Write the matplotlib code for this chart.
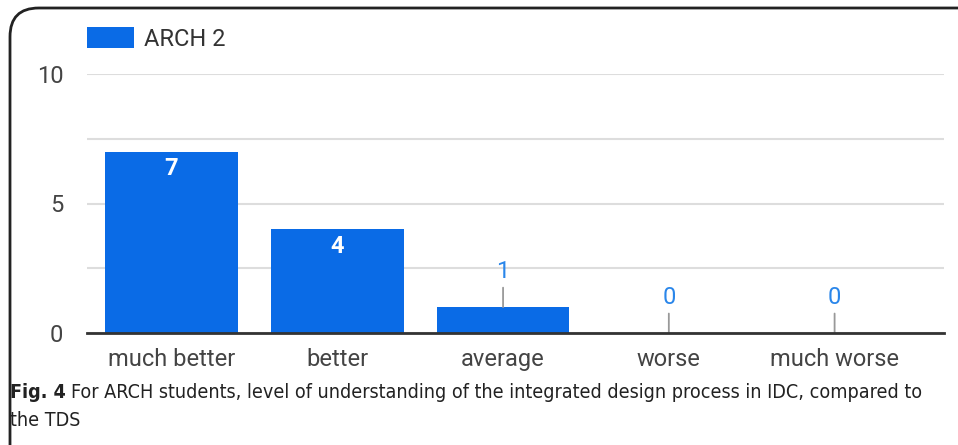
import matplotlib.pyplot as plt
from matplotlib.patches import FancyBboxPatch

# data
categorias = ["much better", "better", "average", "worse", "much worse"]
valores = [7, 4, 1, 0, 0]
serie = "ARCH 2"
legenda_fig = "Fig. 4"
legenda_texto = ("For ARCH students, level of understanding of the integrated design "
                 "process in IDC, compared to")
legenda_texto2 = "the TDS"

azul = '#0a6be6'
azul_rotulo = '#2a86ea'
cinza_txt = '#444444'

plt.rcParams['font.family'] = ['Roboto', 'DejaVu Sans']

fig = plt.figure(figsize=(9.58, 4.45), dpi=100)
ax = fig.add_axes([87 / 958, 1 - 333 / 445, (944 - 87) / 958, (333 - 74) / 445])

x = list(range(len(categorias)))
barras = ax.bar(x, valores, width=0.8, color=azul, label=serie, zorder=2)

ax.set_xlim(-0.51, 4.66)
ax.set_ylim(0, 10)
ax.set_yticks([0, 5, 10])
ax.set_yticks([2.5, 7.5], minor=True)
ax.set_xticks(x)
ax.set_xticklabels(categorias)
ax.tick_params(axis='both', length=0, labelsize=17, labelcolor=cinza_txt)
ax.tick_params(axis='x', pad=11)
ax.tick_params(axis='y', pad=17)
ax.tick_params(which='minor', length=0)
ax.grid(axis='y', which='both', color='#dddddd', linewidth=1.5, zorder=0)
for lado in ['top', 'right', 'left']:
    ax.spines[lado].set_visible(False)
ax.spines['bottom'].set_color('#333333')
ax.spines['bottom'].set_linewidth(2)
ax.spines['bottom'].set_zorder(3)

# value labels
for xi, v in zip(x, valores):
    if v >= 2:
        ax.annotate(str(v), xy=(xi, v), xytext=(0, -4), textcoords='offset points',
                    ha='center', va='top', color='white', fontsize=17, fontweight='bold')
    else:
        ax.annotate(str(v), xy=(xi, v), xytext=(0, 17), textcoords='offset points',
                    ha='center', va='bottom', color=azul_rotulo, fontsize=17,
                    arrowprops=dict(arrowstyle='-', color='#999999', lw=1.3,
                                    shrinkA=1, shrinkB=0))

fig.legend(handles=[barras], labels=[serie], loc='center left',
           bbox_to_anchor=(87 / 958, 1 - 39 / 445), frameon=False, fontsize=17,
           borderpad=0, borderaxespad=0, handlelength=2.0, handleheight=1.0,
           handletextpad=0.42, labelcolor='#333333')

# caption
fonte_leg = ['DejaVu Sans']
t1 = fig.text(10 / 958, 1 - 392 / 445, legenda_fig, fontsize=14.1, fontweight='bold',
              family=fonte_leg, fontstretch='condensed', va='center', ha='left',
              color='#222222')
fig.canvas.draw()
bb = t1.get_window_extent(fig.canvas.get_renderer())
x2 = bb.x1 / fig.bbox.width + 5 / 958
fig.text(x2, 1 - 392 / 445, legenda_texto, fontsize=14.1, family=fonte_leg,
         fontstretch='condensed', va='center', ha='left', color='#222222')
fig.text(10 / 958, 1 - 421 / 445, legenda_texto2, fontsize=14.1, family=fonte_leg,
         fontstretch='condensed', va='center', ha='left', color='#222222')

# frame
moldura = FancyBboxPatch((10 / 958, -0.2), 1.2, 1 - 8 / 445 + 0.2,
                         boxstyle='round,pad=0,rounding_size=0.03',
                         transform=fig.transFigure, fill=False,
                         edgecolor='#222222', linewidth=2, clip_on=False,
                         mutation_aspect=958 / 445)
fig.patches.append(moldura)

fig.savefig('out.png', dpi=100)
